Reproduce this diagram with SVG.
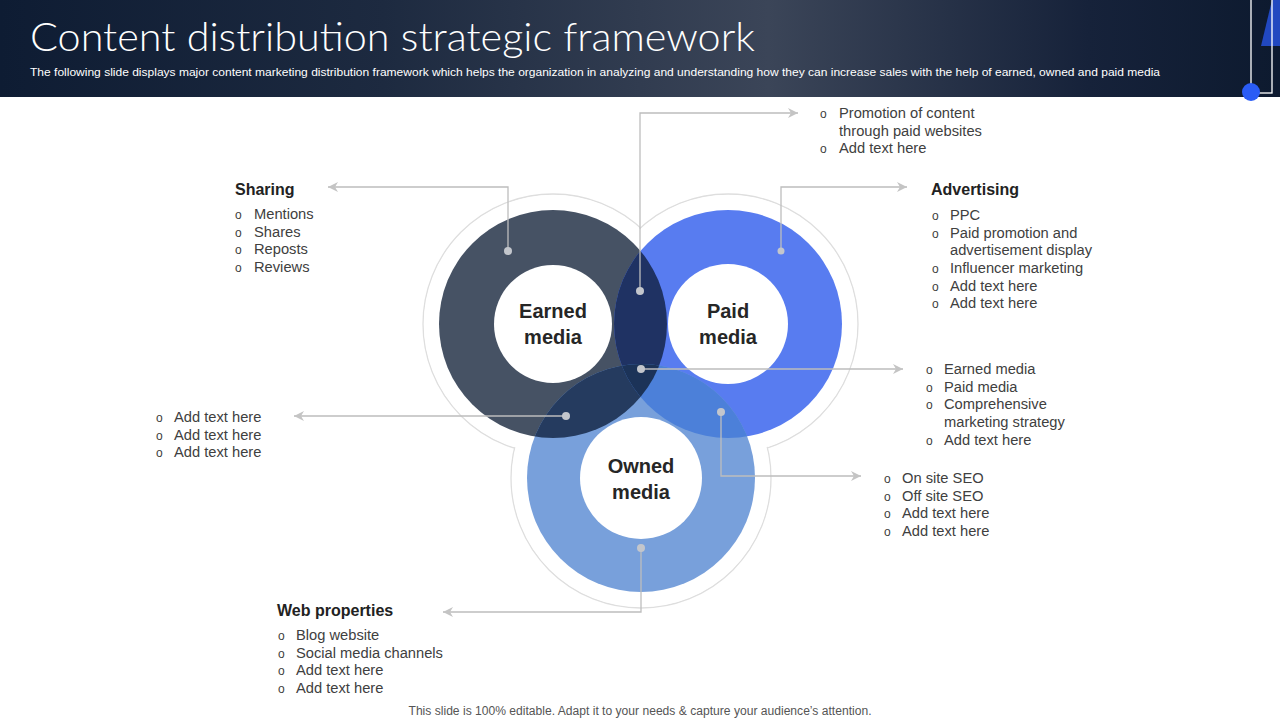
<svg xmlns="http://www.w3.org/2000/svg" width="1280" height="720" viewBox="0 0 1280 720">
<defs>
<linearGradient id="hdr" x1="0" y1="0" x2="1" y2="0">
<stop offset="0" stop-color="#0e1c33"/>
<stop offset="0.3" stop-color="#1d2a40"/>
<stop offset="0.6" stop-color="#3b4558"/>
<stop offset="0.85" stop-color="#16223a"/>
<stop offset="1" stop-color="#0d1a2f"/>
</linearGradient>
<clipPath id="cE"><circle cx="553" cy="324" r="114"/></clipPath>
<clipPath id="cP"><circle cx="728" cy="324" r="114"/></clipPath>
<clipPath id="cO"><circle cx="641" cy="478" r="114"/></clipPath>
<marker id="arr" viewBox="0 0 12 12" refX="11" refY="6" markerWidth="12" markerHeight="12" markerUnits="userSpaceOnUse" orient="auto">
<path d="M1,1 L11,6 L1,11 L4,6 Z" fill="#c4c4c4"/>
</marker>
<style>
.body{font-family:"Liberation Sans",Arial,sans-serif;font-size:14.7px;fill:#404040}
.bul{font-family:"Liberation Sans",Arial,sans-serif;font-size:12px;fill:#404040}
.head{font-family:"Liberation Sans",Arial,sans-serif;font-size:16px;font-weight:bold;fill:#222}
.lbl{font-family:"Liberation Sans",Arial,sans-serif;font-size:20px;font-weight:bold;fill:#262626;text-anchor:middle}
.con{fill:none;stroke:#bdbdbd;stroke-width:1.3}
.dot{fill:#c3c6cc}
</style>
</defs>
<rect width="1280" height="720" fill="#ffffff"/>
<g id="header">
<rect x="0" y="0" width="1280" height="97" fill="url(#hdr)"/>
<text x="30" y="51" font-family="Lato,'Liberation Sans',sans-serif" font-weight="300" font-size="39" fill="#ffffff" textLength="725" lengthAdjust="spacingAndGlyphs">Content distribution strategic framework</text>
<text x="30" y="76" font-family="'Liberation Sans',Arial,sans-serif" font-size="11.5" fill="#ffffff" textLength="1130" lengthAdjust="spacingAndGlyphs">The following slide displays major content marketing distribution framework which helps the organization in analyzing and understanding how they can increase sales with the help of earned, owned and paid media</text>
<polygon points="1261,46 1272,0 1280,0 1280,46" fill="#2148c0"/>
<rect x="1251" y="-2" width="21" height="95" fill="none" stroke="#ffffff" stroke-width="1.3"/>
<circle cx="1251" cy="92" r="9" fill="#2a5cf5"/>
</g>
<g id="venn-outline">
<circle cx="553" cy="324" r="130" fill="#fff" stroke="#dedede" stroke-width="1.3"/>
<circle cx="728" cy="324" r="130" fill="#fff" stroke="#dedede" stroke-width="1.3"/>
<circle cx="641" cy="478" r="130" fill="#fff" stroke="#dedede" stroke-width="1.3"/>
<circle cx="553" cy="324" r="129" fill="#fff"/>
<circle cx="728" cy="324" r="129" fill="#fff"/>
<circle cx="641" cy="478" r="129" fill="#fff"/>
</g>
<g id="earned">
<circle cx="553" cy="324" r="114" fill="#465264"/>
</g>
<g id="paid">
<circle cx="728" cy="324" r="114" fill="#587cf0"/>
</g>
<g id="owned">
<circle cx="641" cy="478" r="114" fill="#78a0db"/>
</g>
<g id="overlaps">
<circle cx="728" cy="324" r="114" fill="#1f3263" clip-path="url(#cE)"/>
<circle cx="641" cy="478" r="114" fill="#253b5f" clip-path="url(#cE)"/>
<circle cx="641" cy="478" r="114" fill="#4c80d9" clip-path="url(#cP)"/>
<g clip-path="url(#cE)"><circle cx="641" cy="478" r="114" fill="#1c3358" clip-path="url(#cP)"/></g>
</g>
<g id="labels">
<circle cx="553" cy="324" r="59" fill="#fff"/>
<circle cx="728" cy="324" r="60" fill="#fff"/>
<circle cx="641" cy="478" r="61" fill="#fff"/>
<text class="lbl" x="553" y="318">Earned</text>
<text class="lbl" x="553" y="344">media</text>
<text class="lbl" x="728" y="318">Paid</text>
<text class="lbl" x="728" y="344">media</text>
<text class="lbl" x="641" y="473">Owned</text>
<text class="lbl" x="641" y="499">media</text>
</g>
<g id="connectors">
<polyline class="con" points="508,251 508,187 328,187" marker-end="url(#arr)"/>
<polyline class="con" points="640,291 640,113 798,113" marker-end="url(#arr)"/>
<polyline class="con" points="781,251 781,187 907,187" marker-end="url(#arr)"/>
<polyline class="con" points="641,369 903,369" marker-end="url(#arr)"/>
<polyline class="con" points="566,416 294,416" marker-end="url(#arr)"/>
<polyline class="con" points="721,412 721,476 861,476" marker-end="url(#arr)"/>
<polyline class="con" points="641,548 641,612 443,612" marker-end="url(#arr)"/>
<circle class="dot" cx="508" cy="251" r="4"/>
<circle class="dot" cx="640" cy="291" r="4"/>
<circle class="dot" cx="781" cy="251" r="3.5"/>
<circle class="dot" cx="641" cy="369" r="4"/>
<circle class="dot" cx="566" cy="416" r="4"/>
<circle class="dot" cx="721" cy="412" r="4"/>
<circle class="dot" cx="641" cy="548" r="4"/>
</g>
<g id="sharing">
<text class="head" x="235" y="195">Sharing</text>
<text class="bul" x="235" y="219">o</text><text class="body" x="254" y="219">Mentions</text>
<text class="bul" x="235" y="237">o</text><text class="body" x="254" y="237">Shares</text>
<text class="bul" x="235" y="254">o</text><text class="body" x="254" y="254">Reposts</text>
<text class="bul" x="235" y="272">o</text><text class="body" x="254" y="272">Reviews</text>
</g>
<g id="top-list">
<text class="bul" x="820" y="118">o</text><text class="body" x="839" y="118">Promotion of content</text>
<text class="body" x="839" y="136">through paid websites</text>
<text class="bul" x="820" y="153">o</text><text class="body" x="839" y="153">Add text here</text>
</g>
<g id="advertising">
<text class="head" x="931" y="195">Advertising</text>
<text class="bul" x="932" y="220">o</text><text class="body" x="950" y="220">PPC</text>
<text class="bul" x="932" y="238">o</text><text class="body" x="950" y="238">Paid promotion and</text>
<text class="body" x="950" y="255">advertisement display</text>
<text class="bul" x="932" y="273">o</text><text class="body" x="950" y="273">Influencer marketing</text>
<text class="bul" x="932" y="291">o</text><text class="body" x="950" y="291">Add text here</text>
<text class="bul" x="932" y="308">o</text><text class="body" x="950" y="308">Add text here</text>
</g>
<g id="center-list">
<text class="bul" x="926" y="374">o</text><text class="body" x="944" y="374">Earned media</text>
<text class="bul" x="926" y="392">o</text><text class="body" x="944" y="392">Paid media</text>
<text class="bul" x="926" y="409">o</text><text class="body" x="944" y="409">Comprehensive</text>
<text class="body" x="944" y="427">marketing strategy</text>
<text class="bul" x="926" y="445">o</text><text class="body" x="944" y="445">Add text here</text>
</g>
<g id="seo-list">
<text class="bul" x="884" y="483">o</text><text class="body" x="902" y="483">On site SEO</text>
<text class="bul" x="884" y="501">o</text><text class="body" x="902" y="501">Off site SEO</text>
<text class="bul" x="884" y="518">o</text><text class="body" x="902" y="518">Add text here</text>
<text class="bul" x="884" y="536">o</text><text class="body" x="902" y="536">Add text here</text>
</g>
<g id="left-list">
<text class="bul" x="156" y="422">o</text><text class="body" x="174" y="422">Add text here</text>
<text class="bul" x="156" y="440">o</text><text class="body" x="174" y="440">Add text here</text>
<text class="bul" x="156" y="457">o</text><text class="body" x="174" y="457">Add text here</text>
</g>
<g id="web-properties">
<text class="head" x="277" y="616">Web properties</text>
<text class="bul" x="278" y="640">o</text><text class="body" x="296" y="640">Blog website</text>
<text class="bul" x="278" y="658">o</text><text class="body" x="296" y="658">Social media channels</text>
<text class="bul" x="278" y="675">o</text><text class="body" x="296" y="675">Add text here</text>
<text class="bul" x="278" y="693">o</text><text class="body" x="296" y="693">Add text here</text>
</g>
<g id="footer">
<text x="640" y="715" text-anchor="middle" font-family="'Liberation Sans',Arial,sans-serif" font-size="12" fill="#555" textLength="463" lengthAdjust="spacingAndGlyphs">This slide is 100% editable. Adapt it to your needs &amp; capture your audience’s attention.</text>
</g>
</svg>
